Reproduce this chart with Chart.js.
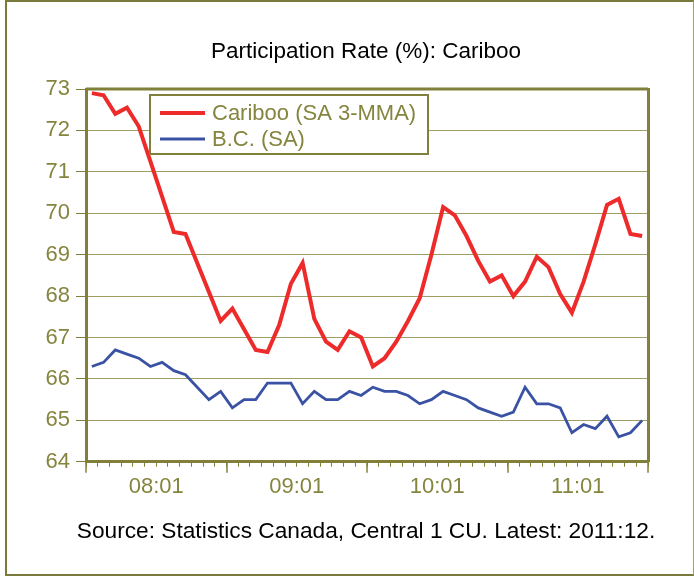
<!DOCTYPE html>
<html>
<head>
<meta charset="utf-8">
<script src="https://cdn.jsdelivr.net/npm/chart.js@4.4.0/dist/chart.umd.min.js"></script>
<style>
  html, body { margin: 0; padding: 0; background: #fff; }
  #wrap { position: relative; width: 694px; height: 577px; }
  #frame {
    position: absolute; left: 5px; top: 0; right: 0; bottom: 1px;
    border: 2px solid #7a7a3c; border-right: 1px solid #a0a078;
    pointer-events: none;
  }
</style>
</head>
<body>
<div id="wrap">
  <canvas id="myChart"></canvas>
  <div id="frame"></div>
</div>
<script>
// Participation rate (%), monthly 2008:01 - 2011:12
var yearLabels = ["08:01", "09:01", "10:01", "11:01"];

var cariboo = [72.9, 72.85, 72.4, 72.55, 72.1, 71.25, 70.4, 69.55, 69.5, 68.8, 68.1, 67.4,
               67.7, 67.2, 66.7, 66.65, 67.3, 68.3, 68.8, 67.45, 66.9, 66.7, 67.15, 67.0,
               66.3, 66.5, 66.9, 67.4, 67.95, 69.0, 70.15, 69.95, 69.45, 68.85, 68.35, 68.5,
               68.0, 68.35, 68.95, 68.7, 68.05, 67.6, 68.35, 69.25, 70.2, 70.35, 69.5, 69.45];

var bc = [66.3, 66.4, 66.7, 66.6, 66.5, 66.3, 66.4, 66.2, 66.1, 65.8, 65.5, 65.7,
          65.3, 65.5, 65.5, 65.9, 65.9, 65.9, 65.4, 65.7, 65.5, 65.5, 65.7, 65.6,
          65.8, 65.7, 65.7, 65.6, 65.4, 65.5, 65.7, 65.6, 65.5, 65.3, 65.2, 65.1,
          65.2, 65.8, 65.4, 65.4, 65.3, 64.7, 64.9, 64.8, 65.1, 64.6, 64.7, 65.0];

var axisColor = "#80803a";
var textColor = "#85853f";
var gridColor = "#9e9e62";
var font = "'Liberation Sans', Arial, sans-serif";

// each month sits in the middle of its slot on the axis
function toPoints(values) {
  return values.map(function (v, i) { return {x: i + 0.5, y: v}; });
}

// top edge of the plot box, year ticks and the boxed legend
var chartDecor = {
  id: "chartDecor",
  beforeDatasetsDraw: function (chart) {
    var ctx = chart.ctx, a = chart.chartArea;
    ctx.save();
    ctx.strokeStyle = axisColor;
    ctx.lineWidth = 3;
    ctx.beginPath();
    ctx.moveTo(a.left, a.top);
    ctx.lineTo(a.right, a.top);
    ctx.stroke();
    ctx.restore();
  },
  afterDraw: function (chart) {
    var ctx = chart.ctx, a = chart.chartArea, xs = chart.scales.x;
    ctx.save();
    ctx.strokeStyle = axisColor;
    ctx.lineWidth = 1.5;
    for (var m = 0; m <= bc.length; m += 12) {
      var px = Math.round(xs.getPixelForValue(m));
      ctx.beginPath();
      ctx.moveTo(px, a.bottom);
      ctx.lineTo(px, a.bottom + 11);
      ctx.stroke();
    }

    var bx = a.left + 64, by = a.top + 6, bw = 278, bh = 59;
    ctx.fillStyle = "#fff";
    ctx.fillRect(bx, by, bw, bh);
    ctx.lineWidth = 2;
    ctx.strokeRect(bx, by, bw, bh);
    ctx.font = "22px " + font;
    ctx.textBaseline = "middle";
    chart.data.datasets.forEach(function (ds, i) {
      var ly = by + 18 + i * 26;
      ctx.strokeStyle = ds.borderColor;
      ctx.lineWidth = ds.borderWidth;
      ctx.beginPath();
      ctx.moveTo(bx + 10, ly);
      ctx.lineTo(bx + 55, ly);
      ctx.stroke();
      ctx.fillStyle = textColor;
      ctx.fillText(ds.label, bx + 62, ly + 1);
    });
    ctx.restore();
  }
};

new Chart("myChart", {
  type: "line",
  data: {
    datasets: [{
      label: "Cariboo (SA 3-MMA)",
      data: toPoints(cariboo),
      borderColor: "#ee2b2b",
      borderWidth: 4,
      pointRadius: 0,
      tension: 0,
      fill: false
    }, {
      label: "B.C. (SA)",
      data: toPoints(bc),
      borderColor: "#3a52a3",
      borderWidth: 2.8,
      pointRadius: 0,
      tension: 0,
      fill: false
    }]
  },
  plugins: [chartDecor],
  options: {
    responsive: true,
    maintainAspectRatio: false,
    animation: false,
    layout: {padding: {left: 38, right: 0, top: 0, bottom: 0}},
    plugins: {
      legend: {display: false},
      tooltip: {enabled: false},
      title: {
        display: true,
        text: "Participation Rate (%): Cariboo",
        color: "#000",
        font: {family: font, size: 22.5, weight: "normal"},
        padding: {top: 38, bottom: 24}
      },
      subtitle: {
        display: true,
        position: "bottom",
        text: "Source: Statistics Canada, Central 1 CU. Latest: 2011:12.",
        color: "#000",
        font: {family: font, size: 22.7, weight: "normal"},
        padding: {top: 16, bottom: 32}
      }
    },
    scales: {
      x: {
        type: "linear",
        min: 0,
        max: 48,
        afterFit: function (s) { s.height = 40; },
        border: {display: true, color: axisColor, width: 3},
        grid: {drawOnChartArea: false, color: axisColor, tickLength: 5, lineWidth: 1},
        ticks: {
          stepSize: 1,
          maxTicksLimit: 100,
          autoSkip: false,
          maxRotation: 0,
          padding: 7,
          color: textColor,
          font: {family: font, size: 22},
          callback: function (value) {
            var k = value - 6;
            return (k >= 0 && k % 12 === 0) ? yearLabels[k / 12] : "";
          }
        }
      },
      y: {
        min: 64,
        max: 73,
        afterFit: function (s) { s.width = 48; },
        border: {display: true, color: axisColor, width: 3},
        grid: {color: gridColor, tickColor: axisColor, tickLength: 10, lineWidth: 1},
        ticks: {
          stepSize: 1,
          padding: 6,
          color: textColor,
          font: {family: font, size: 22}
        }
      },
      // right edge of the plot box
      y2: {
        position: "right",
        min: 64,
        max: 73,
        afterFit: function (s) { s.width = 46; },
        border: {display: true, color: axisColor, width: 3},
        grid: {drawOnChartArea: false, drawTicks: false},
        ticks: {display: false}
      }
    }
  }
});
</script>
</body>
</html>
